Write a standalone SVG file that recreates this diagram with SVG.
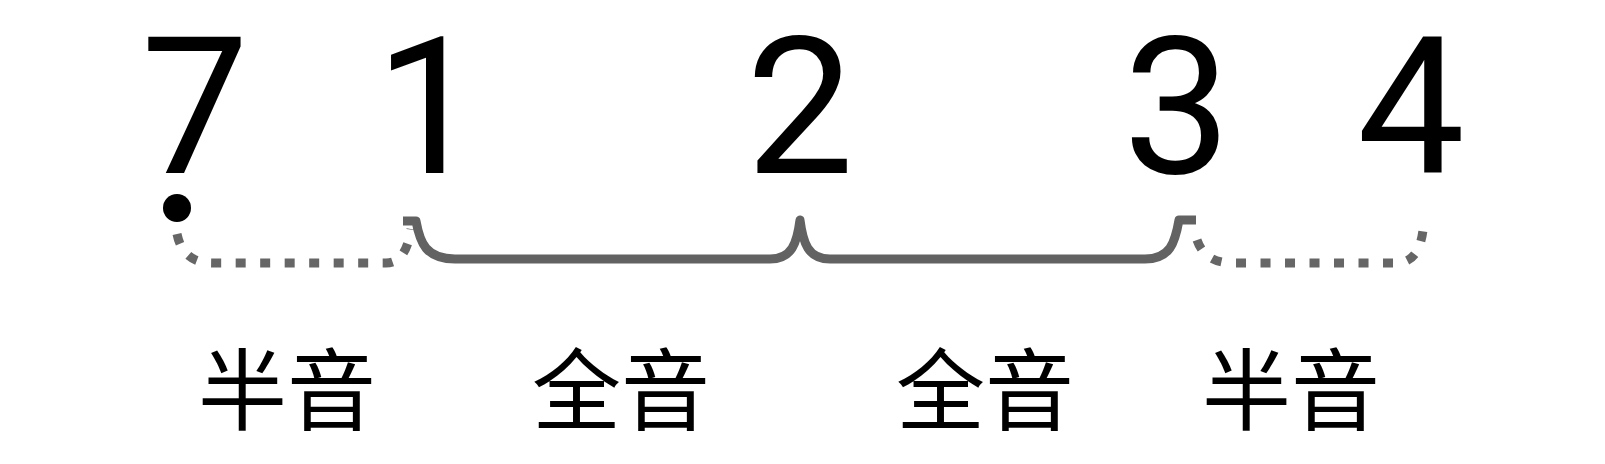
<svg xmlns="http://www.w3.org/2000/svg" width="1605" height="464" viewBox="0 0 1605 464">
<style>
.num{font-family:Roboto,"Noto Sans",sans-serif;font-size:192px;fill:#000;text-anchor:middle}
.lbl{font-family:"Noto Sans CJK SC","Noto Sans CJK JP",sans-serif;font-size:89px;fill:#000;text-anchor:middle}
.solid{fill:none;stroke:#626262;stroke-width:9;stroke-linejoin:round}
.dot{fill:none;stroke:#666;stroke-width:9;stroke-dasharray:10 14.5}
</style>
<rect width="1605" height="464" fill="#fff"/>
<g id="note-7"><text class="num" x="195" y="173">7</text><circle cx="177" cy="208" r="14" fill="#000"/></g>
<g id="note-1"><text class="num" x="429" y="173">1</text></g>
<g id="note-2"><text class="num" x="800" y="173">2</text></g>
<g id="note-3"><text class="num" x="1177" y="173">3</text></g>
<g id="note-4"><text class="num" x="1411" y="173">4</text></g>
<g id="connectors">
<path class="dot" d="M 177 234 Q 183 263 212 263 L 386 263 Q 406 263 411 229"/>
<path class="solid" d="M 403 221 L 416 221 C 420 243 426 259 455 259 L 770 259 C 792 259 797 243 800 220 C 803 243 808 259 830 259 L 1145 259 C 1170 259 1175 243 1179 220 L 1196 220"/>
<path class="dot" d="M 1197 240 Q 1205 263 1232 263 L 1396 263 Q 1419 263 1423 230"/>
</g>
<g id="label-1"><text class="lbl" x="287" y="423">半音</text></g>
<g id="label-2"><text class="lbl" x="621" y="423">全音</text></g>
<g id="label-3"><text class="lbl" x="985" y="423">全音</text></g>
<g id="label-4"><text class="lbl" x="1291" y="423">半音</text></g>
</svg>
